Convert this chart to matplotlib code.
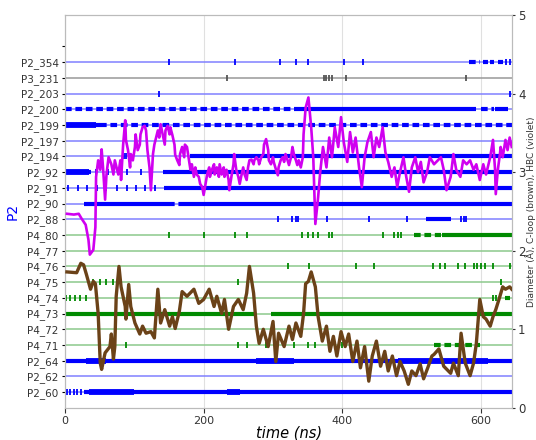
import numpy as np
import matplotlib
matplotlib.use("Agg")
import matplotlib.pyplot as plt

# residues, top to bottom on the left axis
residues = ["P2_354", "P3_231", "P2_203", "P2_200", "P2_199", "P2_197", "P2_194",
            "P2_92", "P2_91", "P2_90", "P2_88", "P4_80", "P4_77", "P4_76", "P4_75",
            "P4_74", "P4_73", "P4_72", "P4_71", "P2_64", "P2_62", "P2_60"]

# contact time spans (ns) per residue
solid_spans = {
    "P2_354": [(603, 610), (613, 618), (624, 631)],
    "P2_200": [(330, 592), (620, 638)],
    "P2_199": [(0, 50)],
    "P2_194": [(181, 645)],
    "P2_92": [(0, 38), (141, 645)],
    "P2_91": [(143, 645)],
    "P2_90": [(27, 148), (166, 645)],
    "P2_88": [(520, 557)],
    "P4_80": [(543, 645)],
    "P4_74": [(634, 642)],
    "P4_73": [(0, 276), (297, 645)],
    "P2_64": [(0, 645)],
    "P2_60": [(27, 645)],
}
dashed_spans = {
    "P2_354": [(582, 598)],
    "P2_200": [(0, 330), (600, 618)],
    "P2_199": [(50, 645)],
    "P2_90": [(148, 166)],
    "P4_80": [(503, 542)],
    "P4_71": [(532, 598)],
}
heavy_spans = {
    "P2_199": [(0, 45)],
    "P2_92": [(0, 35)],
    "P2_64": [(30, 60), (275, 330), (480, 610)],
    "P2_60": [(35, 100), (233, 252)],
}
tick_times = {
    "P2_354": [150, 245, 310, 333, 350, 402, 430, 636, 641],
    "P3_231": [233, 373, 377, 381, 385, 405, 578],
    "P2_203": [136, 641],
    "P2_92": [45, 62, 90, 110, 125],
    "P2_91": [5, 19, 32, 46, 60, 75, 90, 102, 116, 130],
    "P2_194": [85, 88, 92],
    "P2_88": [307, 328, 333, 336, 378, 439, 493, 571, 575, 578],
    "P4_80": [150, 200, 245, 262, 342, 350, 358, 365, 380, 385, 458, 475, 480, 484],
    "P4_76": [322, 352, 420, 446, 530, 540, 548, 567, 577, 589, 594, 600, 606, 617, 641],
    "P4_75": [41, 51, 60, 70, 250, 628],
    "P4_74": [1, 8, 15, 22, 30, 617, 621],
    "P4_71": [88, 250, 262, 290, 330, 350, 360, 380, 400],
    "P2_60": [3, 8, 13, 18, 23],
}

# C-loop (brown) and HBC (violet), right axis
cloop_t = [3, 17, 23, 27, 31, 37, 41, 44, 48, 51, 53, 58, 65, 67, 70, 72, 74, 78, 81, 87,
           88, 92, 95, 101, 108, 112, 117, 124, 129, 134, 138, 144, 151, 155, 159, 165, 169,
           176, 186, 193, 200, 208, 215, 219, 226, 230, 236, 243, 250, 257, 262, 266, 272,
           276, 280, 286, 293, 300, 304, 308, 316, 323, 328, 333, 340, 344, 347, 351, 355,
           361, 365, 371, 377, 382, 387, 392, 398, 404, 409, 415, 421, 426, 432, 438, 443,
           449, 455, 461, 466, 472, 478, 483, 489, 495, 500, 506, 512, 517, 523, 529, 532,
           539, 546, 556, 560, 567, 571, 577, 584, 589, 593, 598, 603, 607, 613, 617, 621,
           627, 631, 635, 641, 644]
cloop_v = [1.73, 1.72, 1.84, 1.82, 1.70, 1.51, 1.61, 1.58, 1.20, 0.57, 0.49, 0.70, 0.78,
           0.94, 0.62, 0.78, 1.42, 1.80, 1.54, 1.29, 1.13, 1.57, 1.29, 1.08, 0.94, 1.04,
           0.95, 0.97, 0.89, 1.51, 1.08, 1.25, 1.04, 1.16, 1.01, 1.23, 1.48, 1.42, 1.51,
           1.33, 1.38, 1.51, 1.29, 1.42, 1.20, 1.38, 1.00, 1.29, 1.38, 1.25, 1.46, 1.80,
           1.46, 1.04, 0.82, 1.00, 0.78, 1.10, 0.59, 0.95, 0.78, 1.04, 0.87, 1.08, 0.91,
           1.20, 1.58, 1.61, 1.73, 1.54, 1.16, 0.85, 1.04, 0.72, 0.91, 0.66, 0.97, 0.78,
           0.94, 0.59, 0.85, 0.51, 0.78, 0.34, 0.66, 0.85, 0.53, 0.72, 0.47, 0.66, 0.41,
           0.59, 0.47, 0.30, 0.47, 0.41, 0.56, 0.37, 0.51, 0.66, 0.68, 0.75, 0.53, 0.44,
           0.57, 0.41, 0.95, 0.57, 0.41, 0.57, 0.82, 1.38, 1.16, 1.13, 1.04, 1.16, 1.25,
           1.42, 1.54, 1.51, 1.54, 1.51]

hbc_t = [3, 13, 20, 24, 30, 34, 36, 41, 44, 45, 48, 51, 53, 55, 58, 60, 63, 67, 70, 72,
         77, 80, 81, 84, 87, 88, 91, 94, 95, 98, 101, 102, 105, 108, 109, 112, 115, 117,
         119, 122, 124, 127, 129, 131, 134, 136, 138, 141, 144, 145, 148, 151, 152, 155,
         158, 159, 162, 165, 166, 169, 172, 173, 176, 179, 181, 183, 186, 188, 190, 193,
         195, 198, 200, 202, 205, 208, 209, 212, 215, 216, 219, 222, 223, 226, 229, 230,
         233, 236, 237, 240, 243, 244, 247, 250, 252, 254, 257, 259, 262, 264, 266, 269,
         272, 273, 276, 279, 280, 283, 286, 287, 290, 293, 294, 297, 300, 301, 304, 307,
         308, 311, 314, 316, 318, 321, 323, 326, 328, 330, 333, 335, 337, 340, 343, 344,
         347, 351, 355, 358, 361, 365, 368, 372, 377, 381, 385, 389, 394, 398, 402, 407,
         411, 415, 419, 424, 428, 432, 436, 441, 445, 449, 453, 458, 462, 466, 471, 475,
         479, 483, 488, 492, 496, 500, 505, 509, 513, 517, 522, 526, 532, 542, 546, 550,
         556, 560, 564, 570, 574, 579, 584, 589, 593, 598, 603, 607, 613, 617, 620, 621,
         624, 627, 628, 631, 635, 638, 641, 644]
hbc_v = [2.47, 2.46, 2.47, 2.41, 2.33, 2.14, 1.95, 2.01, 2.30, 2.94, 3.15, 3.03, 3.29,
         3.06, 2.65, 2.97, 3.19, 3.10, 2.97, 3.15, 2.97, 3.15, 2.90, 3.35, 3.66, 3.41,
         3.28, 3.06, 3.23, 3.15, 3.32, 3.48, 3.28, 3.35, 3.48, 3.57, 3.59, 3.53, 3.28,
         3.06, 2.77, 3.23, 3.35, 3.42, 3.53, 3.44, 3.61, 3.48, 3.35, 3.53, 3.59, 3.48,
         3.57, 3.47, 3.35, 3.22, 3.15, 3.09, 3.23, 3.32, 3.19, 3.35, 3.32, 3.15, 3.03,
         3.10, 2.94, 3.06, 2.97, 2.94, 2.85, 2.81, 2.71, 2.81, 2.97, 3.06, 2.94, 3.03,
         3.10, 2.97, 3.06, 2.94, 3.10, 2.97, 3.06, 2.94, 3.03, 2.90, 2.77, 2.94, 3.10,
         3.23, 3.03, 2.94, 2.85, 2.94, 3.06, 2.97, 2.90, 3.06, 3.15, 3.16, 3.10, 3.15,
         3.19, 3.15, 3.10, 3.19, 3.23, 3.35, 3.42, 3.28, 3.15, 3.10, 3.19, 3.13, 3.04,
         2.96, 3.06, 3.15, 3.19, 3.13, 3.23, 3.15, 3.09, 3.19, 3.32, 3.23, 3.15, 3.09,
         3.15, 3.06, 3.19, 3.48, 3.82, 3.95, 3.57, 3.19, 2.34, 2.68, 3.00, 3.32, 3.06,
         3.44, 3.19, 3.57, 3.32, 3.70, 3.38, 3.13, 3.51, 3.25, 3.44, 3.06, 2.81, 3.19,
         3.38, 3.51, 3.19, 3.44, 3.32, 3.57, 3.25, 3.13, 2.94, 3.06, 2.81, 3.00, 3.19,
         2.94, 2.75, 3.06, 3.19, 3.00, 3.13, 2.87, 3.00, 3.19, 3.10, 3.19, 3.03, 2.77,
         2.94, 3.23, 3.03, 2.94, 3.15, 3.10, 3.15, 3.03, 3.10, 2.90, 3.10, 2.97, 3.19,
         3.41, 3.03, 2.72, 3.03, 3.23, 3.32, 3.19, 3.41, 3.28, 3.44, 3.32]

time_max = 645


def row_colors(name):
    if name.startswith("P2"):
        return "#8080ff", "#0000ff"
    if name.startswith("P3"):
        return "#999999", "#555555"
    return "#8cc98c", "#008a00"


fig = plt.figure(figsize=(5.36, 4.40), dpi=100)
ax = fig.add_axes([0.121, 0.073, 0.835, 0.893])

n = len(residues)
levels = {name: n - i for i, name in enumerate(residues)}

for name in residues:
    y = levels[name]
    base, mark = row_colors(name)
    ax.hlines(y, 0, time_max, color=base, lw=1.1, zorder=1)
    for s, e in dashed_spans.get(name, []):
        ax.hlines(y, s, e, color=mark, lw=3.0, linestyles=(0, (1.6, 0.9)), zorder=2)
    for s, e in solid_spans.get(name, []):
        ax.hlines(y, s, e, color=mark, lw=3.0, zorder=2)
    for s, e in heavy_spans.get(name, []):
        ax.hlines(y, s, e, color=mark, lw=4.2, zorder=2)
    tt = tick_times.get(name, [])
    if tt:
        ax.plot(tt, [y] * len(tt), ls="none", marker="|", ms=4, mew=1.3,
                color=mark, zorder=2)

ax.set_xlim(0, time_max)
ax.set_ylim(0, 25)
ax.set_yticks(list(range(1, n + 2)))
ax.set_yticklabels(residues[::-1] + [""], fontsize=7.5, color="#333333")
ax.set_xticks([0, 200, 400, 600])
ax.tick_params(axis="x", labelsize=8, colors="#333333", pad=2)
ax.tick_params(axis="y", length=2.5, pad=2)
ax.grid(axis="x", color="#e0e0e0", lw=0.8)
ax.set_axisbelow(True)
for sp in ax.spines.values():
    sp.set_color("#bbbbbb")
ax.set_xlabel("time (ns)", fontsize=10.5, style="italic", labelpad=0)
ax.set_ylabel("P2", fontsize=10, color="#0000ff", labelpad=1)

ax2 = ax.twinx()
ax2.plot(cloop_t, cloop_v, color="#6b4218", lw=2.4, zorder=4)
ax2.plot(hbc_t, hbc_v, color="#d000f0", lw=1.9, zorder=4)
ax2.set_ylim(0, 5)
ax2.set_yticks([0, 1, 2, 3, 4, 5])
ax2.tick_params(axis="y", labelsize=8.5, length=2.5, pad=1.5, colors="#333333")
for sp in ax2.spines.values():
    sp.set_color("#bbbbbb")
ax2.set_ylabel("Diameter (Å), C-loop (brown), HBC (violet)", fontsize=6.5, color="#333333",
               labelpad=0)

fig.savefig("out.png", dpi=100)
